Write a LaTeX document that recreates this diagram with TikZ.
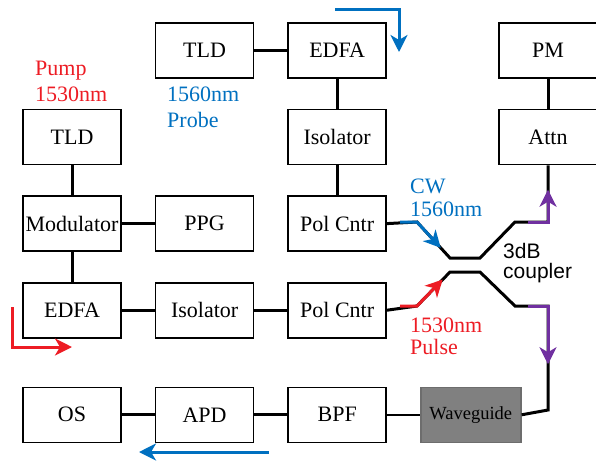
\documentclass[tikz,border=0pt]{standalone}
\usepackage{fontspec}
\setmainfont{Liberation Serif}
\newfontfamily\couplerfont{Liberation Sans}
\usepackage{tikz}
\usetikzlibrary{positioning,arrows.meta,calc}
\definecolor{probeblue}{RGB}{0,112,192}
\definecolor{pumpred}{RGB}{237,28,36}
\definecolor{outpurple}{RGB}{112,48,160}
\definecolor{guidegray}{RGB}{128,128,128}
\tikzset{
    labbox/.style={draw, line width=1.6pt, rectangle, align=center, minimum width=98pt, minimum height=55pt, inner sep=1pt, font=\fontsize{22}{24}\selectfont},
    guidebox/.style={labbox, fill=guidegray, draw=guidegray!85!black, minimum width=100pt, font=\fontsize{18.5}{20}\selectfont},
    fibre/.style={draw, line width=3pt},
    thinfibre/.style={draw, line width=1.8pt},
    probearrow/.style={draw=probeblue, line width=3pt, -{Stealth[length=17pt,width=17pt,inset=5pt,fill=probeblue]}},
    pumparrow/.style={draw=pumpred, line width=3pt, -{Stealth[length=17pt,width=17pt,inset=5pt,fill=pumpred]}},
    outarrow/.style={draw=outpurple, line width=3pt, -{Stealth[length=17pt,width=17pt,inset=5pt,fill=outpurple]}},
    tag/.style={anchor=base west, align=left, inner sep=0pt, font=\fontsize{22}{26}\selectfont}
}
\begin{document}
\begin{tikzpicture}[x=1pt, y=-1pt, node distance=30pt and 33pt]
    \useasboundingbox (0,0) rectangle (596,464);

    % pump branch
    \node[labbox] (tldpump) at (72,137) {TLD};
    \node[labbox, below=of tldpump] (mod) {Modulator};
    \node[labbox, right=of mod] (ppg) {PPG};
    \node[labbox, below=of mod] (edfapump) {EDFA};
    \node[labbox, right=of edfapump] (isopump) {Isolator};
    \node[labbox, right=of isopump] (polpulse) {Pol Cntr};

    % probe branch
    \node[labbox, right=of ppg] (polcw) {Pol Cntr};
    \node[labbox, above=of polcw] (isoprobe) {Isolator};
    \node[labbox, above=of isoprobe] (edfaprobe) {EDFA};
    \node[labbox, left=of edfaprobe] (tldprobe) {TLD};

    % monitor
    \node[labbox] (attn) at (548,137) {Attn};
    \node[labbox, above=of attn] (pm) {PM};

    % detection
    \node[labbox, below=48pt of edfapump] (os) {OS};
    \node[labbox, right=of os] (apd) {APD};
    \node[labbox, right=of apd] (bpf) {BPF};
    \node[guidebox, right=of bpf] (guide) {Waveguide};

    \draw[fibre] (tldprobe) -- (edfaprobe);
    \draw[fibre] (edfaprobe) -- (isoprobe);
    \draw[fibre] (isoprobe) -- (polcw);
    \draw[fibre] (tldpump) -- (mod);
    \draw[fibre] (mod) -- (ppg);
    \draw[fibre] (mod) -- (edfapump);
    \draw[fibre] (edfapump) -- (isopump);
    \draw[fibre] (isopump) -- (polpulse);
    \draw[fibre] (pm) -- (attn);
    \draw[fibre] (os) -- (apd);
    \draw[fibre] (apd) -- (bpf);
    \draw[thinfibre] (bpf) -- (guide);

    % 3dB coupler
    \coordinate (cu1) at (400,222);
    \coordinate (cu2) at (417,222);
    \coordinate (cu3) at (450,258);
    \coordinate (cu4) at (480,258);
    \coordinate (cu5) at (515,222);
    \coordinate (cu6) at (528,222);
    \coordinate (cu7) at (548,222);
    \coordinate (cl1) at (400,306);
    \coordinate (cl2) at (417,306);
    \coordinate (cl3) at (450,272);
    \coordinate (cl4) at (480,272);
    \coordinate (cl5) at (515,306);
    \coordinate (cl6) at (528,306);
    \coordinate (cl7) at (548,306);
    \coordinate (cl8) at (548,410);

    \draw[fibre] (polcw.east) -- (cu2) -- (cu3) -- (cu4) -- (cu5) -- (cu7) -- (attn.south);
    \draw[fibre] (polpulse.east) -- (cl2) -- (cl3) -- (cl4) -- (cl5) -- (cl7) -- (cl8) -- (guide.east);
    \draw[probearrow] (cu1) -- (cu2) -- ($(cu2)!0.72!(cu3)$);
    \draw[pumparrow] (cl1) -- (cl2) -- ($(cl2)!0.78!(cl3)$);
    \draw[outarrow] (cu6) -- (cu7) -- ($(cu7)!0.57!(attn.south)$);
    \draw[outarrow] (cl6) -- (cl7) -- ($(cl7)!0.56!(cl8)$);

    % direction arrows
    \coordinate (probein) at (335,9);
    \coordinate (probebend) at (399,9);
    \coordinate (probetip) at (399,52);
    \coordinate (pumpin) at (12,307);
    \coordinate (pumpbend) at (12,347);
    \coordinate (pumptip) at (72,347);
    \coordinate (detin) at (269,452);
    \coordinate (dettip) at (139,452);
    \draw[probearrow] (probein) -- (probebend) -- (probetip);
    \draw[pumparrow] (pumpin) -- (pumpbend) -- (pumptip);
    \draw[probearrow] (detin) -- (dettip);

    % labels
    \node[tag, text=pumpred] (pumplab) at (35,101) {Pump\\1530nm};
    \node[tag, text=probeblue] (probelab) at (167,127) {1560nm\\Probe};
    \node[tag, text=probeblue, font=\fontsize{22}{23}\selectfont] (cwlab) at (410,216) {CW\\1560nm};
    \node[tag, text=pumpred, font=\fontsize{22}{22}\selectfont] (pulselab) at (410,354) {1530nm\\Pulse};
    \node[tag, font=\couplerfont\fontsize{21}{20}\selectfont] (couplerlab) at (503,278) {3dB\\coupler};
\end{tikzpicture}
\end{document}
